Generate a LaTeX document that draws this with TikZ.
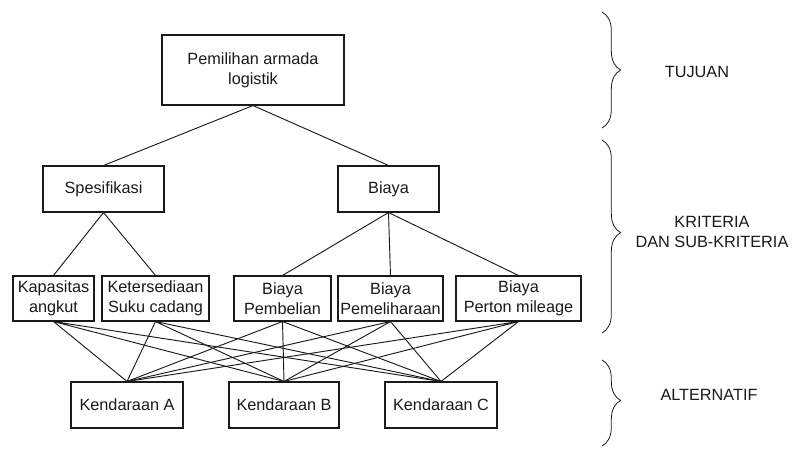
\documentclass[tikz,border=0pt]{standalone}
\usepackage{fontspec}
\setmainfont{Liberation Sans}
\usetikzlibrary{decorations.pathreplacing}
\definecolor{ahpInk}{HTML}{1A1A1A}
\tikzset{
  ahpbox/.style={draw=ahpInk,line width=0.8pt,fill=white,inner sep=0pt,
                 align=center,text=ahpInk,font=\fontsize{12.2}{15}\selectfont},
  ahplink/.style={draw=ahpInk,line width=0.7pt},
  ahpbrace/.style={draw=ahpInk,line width=0.6pt,decorate,
                   decoration={brace,amplitude=14pt}},
  ahplabel/.style={align=center,text=ahpInk,font=\fontsize{12.2}{15}\selectfont}
}

\begin{document}
\begin{tikzpicture}[x=0.75pt,y=-0.75pt]
  \useasboundingbox (0,0) rectangle (793,450);

  % goal
  \node[ahpbox,minimum width=136.5pt,minimum height=52.5pt]
    (goal) at (253,70) {Pemilihan armada\\logistik};

  % criteria
  \node[ahpbox,minimum width=90.75pt,minimum height=34.5pt]
    (spek) at (103.5,189) {Spesifikasi};
  \node[ahpbox,minimum width=75.75pt,minimum height=34.5pt]
    (biaya) at (388.5,189) {Biaya};

  % sub-criteria
  \node[ahpbox,minimum width=60.75pt,minimum height=33.75pt]
    (kap) at (53.5,298.5) {Kapasitas\\angkut};
  \node[ahpbox,minimum width=80.25pt,minimum height=33.75pt]
    (ket) at (155.5,298.5) {Ketersediaan\\Suku cadang};
  \node[ahpbox,minimum width=72.75pt,minimum height=33.75pt]
    (beli) at (282.5,298.5) {Biaya\\Pembelian};
  \node[ahpbox,minimum width=78.75pt,minimum height=33.75pt]
    (pelihara) at (390.5,298.5) {Biaya\\Pemeliharaan};
  \node[ahpbox,minimum width=93.75pt,minimum height=33.75pt]
    (perton) at (518.5,298.5) {Biaya\\Perton mileage};

  % alternatives
  \node[ahpbox,minimum width=84pt,minimum height=34.5pt]
    (altA) at (127,405) {Kendaraan A};
  \node[ahpbox,minimum width=82.5pt,minimum height=34.5pt]
    (altB) at (284,405) {Kendaraan B};
  \node[ahpbox,minimum width=84pt,minimum height=34.5pt]
    (altC) at (441,405) {Kendaraan C};

  % hierarchy links
  \draw[ahplink] (goal.south) -- (spek.north);
  \draw[ahplink] (goal.south) -- (biaya.north);
  \draw[ahplink] (spek.south) -- (kap.north);
  \draw[ahplink] (spek.south) -- (ket.north);
  \draw[ahplink] (biaya.south) -- (beli.north);
  \draw[ahplink] (biaya.south) -- (pelihara.north);
  \draw[ahplink] (biaya.south) -- (perton.north);

  % every sub-criterion to every alternative
  \draw[ahplink] (kap.south) -- (altA.north)
                 (kap.south) -- (altB.north)
                 (kap.south) -- (altC.north);
  \draw[ahplink] (ket.south) -- (altA.north)
                 (ket.south) -- (altB.north)
                 (ket.south) -- (altC.north);
  \draw[ahplink] (beli.south) -- (altA.north)
                 (beli.south) -- (altB.north)
                 (beli.south) -- (altC.north);
  \draw[ahplink] (pelihara.south) -- (altA.north)
                 (pelihara.south) -- (altB.north)
                 (pelihara.south) -- (altC.north);
  \draw[ahplink] (perton.south) -- (altA.north)
                 (perton.south) -- (altB.north)
                 (perton.south) -- (altC.north);

  % level braces
  \coordinate (tujTop) at (602,12);
  \coordinate (tujBot) at (602,128);
  \coordinate (kriTop) at (602,140);
  \coordinate (kriBot) at (602,333);
  \coordinate (altTop) at (602,360);
  \coordinate (altBot) at (602,446);
  \draw[ahpbrace] (tujTop) -- (tujBot);
  \draw[ahpbrace,decoration={aspect=0.48}] (kriTop) -- (kriBot);
  \draw[ahpbrace,decoration={aspect=0.47}] (altTop) -- (altBot);

  % level labels
  \node[ahplabel] (tujuan) at (697,72) {TUJUAN};
  \node[ahplabel] (kriteria) at (712,232) {KRITERIA\\DAN SUB-KRITERIA};
  \node[ahplabel] (alternatif) at (709,395) {ALTERNATIF};
\end{tikzpicture}
\end{document}
